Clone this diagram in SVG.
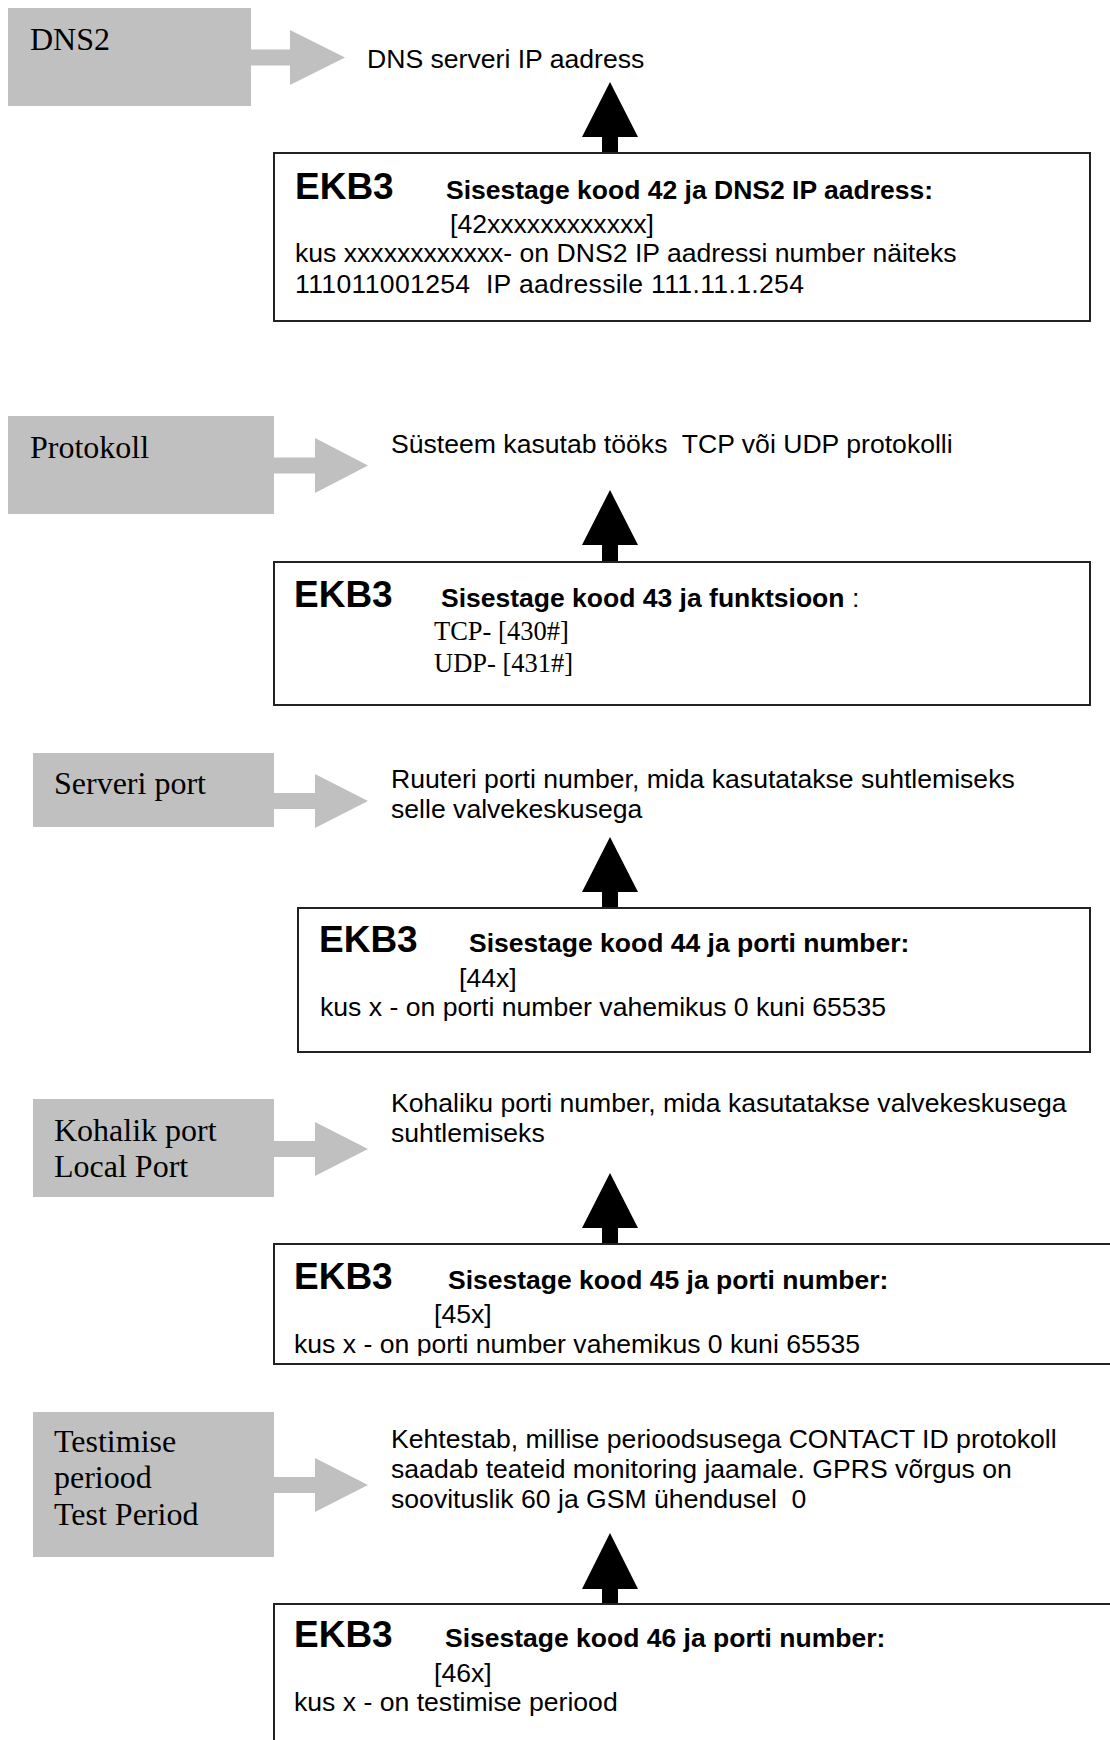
<svg xmlns="http://www.w3.org/2000/svg" width="1110" height="1740" viewBox="0 0 1110 1740">
<style>
text{white-space:pre}
.lbl{fill:#c0c0c0}
.gt{font-family:"Liberation Serif","Times New Roman",serif;font-size:32px;fill:#000}
.tt{font-family:"Liberation Serif","Times New Roman",serif;font-size:26.5px;fill:#000}
.t{font-family:"Liberation Sans",Arial,sans-serif;font-size:26.6px;fill:#000}
.b{font-family:"Liberation Sans",Arial,sans-serif;font-size:26.5px;font-weight:bold;fill:#000}
.ekb{font-family:"Liberation Sans",Arial,sans-serif;font-size:37px;font-weight:bold;fill:#000}
.box{fill:#fff;stroke:#222;stroke-width:2}
.ga{fill:#c0c0c0}
.ba{fill:#000}
</style>
<defs>
<clipPath id="c4"><rect x="0" y="1245" width="1110" height="111"/></clipPath>
</defs>
<rect width="1110" height="1740" fill="#fff"/>

<g id="connectors">
<path class="ga" d="M251,49.5 H290 V30 L345,57.5 L290,85 V65.5 H251 Z"/>
<path class="ga" d="M274,457.5 H315 V438 L368,465.5 L315,493 V473.5 H274 Z"/>
<path class="ga" d="M274,793 H315 V774 L368,801 L315,828 V809 H274 Z"/>
<path class="ga" d="M274,1141 H315 V1122 L368,1149 L315,1176 V1157 H274 Z"/>
<path class="ga" d="M274,1477 H315 V1458 L368,1485 L315,1512 V1493 H274 Z"/>
<path class="ba" d="M602,153 V137 H582 L610,82 L638,137 H618 V153 Z"/>
<path class="ba" d="M602,562 V545 H582 L610,490 L638,545 H618 V562 Z"/>
<path class="ba" d="M602,908 V892 H582 L610,837 L638,892 H618 V908 Z"/>
<path class="ba" d="M602,1244 V1228 H582 L610,1173 L638,1228 H618 V1244 Z"/>
<path class="ba" d="M602,1604 V1589 H582 L610,1533 L638,1589 H618 V1604 Z"/>
</g>

<g id="n-dns2">
<rect class="lbl" x="8" y="8" width="243" height="98"/>
<text class="gt" x="30" y="50">DNS2</text>
</g>
<g id="d-dns2"><text class="t" x="367" y="68">DNS serveri IP aadress</text></g>
<g id="e-42">
<rect class="box" x="274" y="153" width="816" height="168"/>
<text class="ekb" x="295" y="199">EKB3</text>
<text class="b" x="446" y="199">Sisestage kood 42 ja DNS2 IP aadress:</text>
<text class="t" x="450" y="233">[42xxxxxxxxxxxx]</text>
<text class="t" x="295" y="262">kus xxxxxxxxxxxx- on DNS2 IP aadressi number näiteks</text>
<text class="t" x="295" y="293" textLength="509" lengthAdjust="spacing">111011001254  IP aadressile 111.11.1.254</text>
</g>

<g id="n-protokoll">
<rect class="lbl" x="8" y="416" width="266" height="98"/>
<text class="gt" x="30" y="458">Protokoll</text>
</g>
<g id="d-protokoll"><text class="t" x="391" y="453">Süsteem kasutab tööks  TCP või UDP protokolli</text></g>
<g id="e-43">
<rect class="box" x="274" y="562" width="816" height="143"/>
<text class="ekb" x="294" y="607">EKB3</text>
<text x="441" y="607"><tspan class="b">Sisestage kood 43 ja funktsioon</tspan><tspan class="t"> :</tspan></text>
<text class="tt" x="434" y="640">TCP- [430#]</text>
<text class="tt" x="434" y="672">UDP- [431#]</text>
</g>

<g id="n-serveri">
<rect class="lbl" x="33" y="753" width="241" height="74"/>
<text class="gt" x="54" y="794">Serveri port</text>
</g>
<g id="d-serveri">
<text class="t" x="391" y="788">Ruuteri porti number, mida kasutatakse suhtlemiseks</text>
<text class="t" x="391" y="818">selle valvekeskusega</text>
</g>
<g id="e-44">
<rect class="box" x="298" y="908" width="792" height="144"/>
<text class="ekb" x="319" y="952">EKB3</text>
<text class="b" x="469" y="952">Sisestage kood 44 ja porti number:</text>
<text class="t" x="459" y="987">[44x]</text>
<text class="t" x="320" y="1016">kus x - on porti number vahemikus 0 kuni 65535</text>
</g>

<g id="n-kohalik">
<rect class="lbl" x="33" y="1099" width="241" height="98"/>
<text class="gt" x="54" y="1141">Kohalik port</text>
<text class="gt" x="54" y="1177">Local Port</text>
</g>
<g id="d-kohalik">
<text class="t" x="391" y="1112">Kohaliku porti number, mida kasutatakse valvekeskusega</text>
<text class="t" x="391" y="1142">suhtlemiseks</text>
</g>
<g id="e-45">
<rect class="box" x="274" y="1244" width="850" height="120"/>
<text class="ekb" x="294" y="1289">EKB3</text>
<text class="b" x="448" y="1289">Sisestage kood 45 ja porti number:</text>
<text class="t" x="434" y="1323">[45x]</text>
<text class="t" x="294" y="1353" clip-path="url(#c4)">kus x - on porti number vahemikus 0 kuni 65535</text>
</g>

<g id="n-testimise">
<rect class="lbl" x="33" y="1412" width="241" height="145"/>
<text class="gt" x="54" y="1452">Testimise</text>
<text class="gt" x="54" y="1488">periood</text>
<text class="gt" x="54" y="1525">Test Period</text>
</g>
<g id="d-testimise">
<text class="t" x="391" y="1448">Kehtestab, millise perioodsusega CONTACT ID protokoll</text>
<text class="t" x="391" y="1478">saadab teateid monitoring jaamale. GPRS võrgus on</text>
<text class="t" x="391" y="1508">soovituslik 60 ja GSM ühendusel  0</text>
</g>
<g id="e-46">
<rect class="box" x="274" y="1604" width="850" height="160"/>
<text class="ekb" x="294" y="1647">EKB3</text>
<text class="b" x="445" y="1647">Sisestage kood 46 ja porti number:</text>
<text class="t" x="434" y="1682">[46x]</text>
<text class="t" x="294" y="1711">kus x - on testimise periood</text>
</g>
</svg>
